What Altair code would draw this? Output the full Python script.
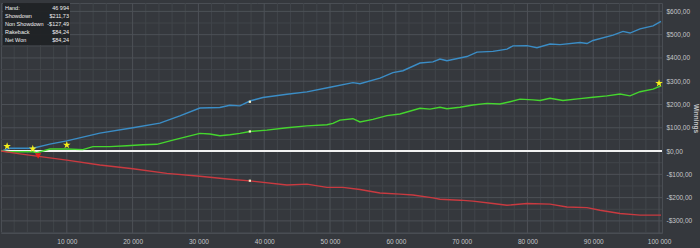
import altair as alt
import pandas as pd

# ---- data ----
blue_hands = [0, 1340, 4830, 7420, 10000, 15020, 20040, 24140, 27180, 30220, 33260, 34780, 36300, 37820,
              39800, 43450, 46490, 50000, 53480, 54550, 57590, 59560, 61080, 63670, 65640, 66710, 67770,
              70810, 72330, 74760, 76890, 77800, 79930, 81450, 83430, 84950, 88000, 89050, 89960, 93010,
              94530, 95590, 97110, 99090, 100300]
blue_vals = [0, 12, 12, 30, 44, 77, 100, 120, 151, 185, 187, 197, 194, 215,
             230, 244, 254, 274, 294, 289, 313, 337, 345, 378, 383, 395, 388,
             406, 425, 428, 438, 452, 453, 444, 460, 457, 466, 462, 475, 498,
             514, 507, 525, 538, 557]

green_hands = [0, 1340, 4830, 5440, 7420, 10000, 12440, 13960, 16540, 19130, 21560, 23690, 26120, 28250,
               30220, 31740, 33260, 34780, 36300, 37820, 40410, 43450, 46490, 49530, 50440, 51500, 53480,
               54550, 56520, 58650, 60630, 63670, 65190, 66710, 67770, 69750, 71720, 73850, 75830, 77350,
               78870, 80850, 81910, 83430, 85400, 88000, 89960, 92090, 94070, 95590, 97110, 99090, 100300]
green_vals = [0, -3, -3, -7, 9, 9, 6, 19, 19, 23, 27, 29, 47, 62,
              76, 73, 66, 70, 76, 84, 90, 100, 108, 113, 119, 133, 139,
              125, 136, 152, 159, 184, 180, 188, 182, 188, 198, 205, 202, 212,
              223, 220, 217, 227, 217, 225, 231, 237, 245, 237, 255, 266, 280]

red_hands = [0, 2860, 5440, 10000, 15020, 20040, 25200, 30220, 34780, 37820, 43450, 46490, 49530, 51960,
             54550, 57590, 60630, 62600, 65640, 66710, 69750, 71720, 74760, 76890, 79930, 83430, 86000,
             89050, 91030, 94070, 97110, 100300]
red_vals = [0, -12, -22, -39, -60, -76, -96, -108, -121, -128, -146, -142, -156, -156,
            -165, -180, -185, -189, -201, -207, -211, -215, -225, -233, -225, -228, -240,
            -243, -254, -268, -275, -275]

series_names = ["Showdown", "Net Won", "Non Showdown"]
series_colors = ["#3b8dc6", "#45d62e", "#c93a40"]

star_hands = [930, 4830, 10000, 100000]
star_vals = [21, 10, 26, 291]
tri_hands = [5640]
tri_vals = [-21]
hover_hand = 37820
hover_vals = [211.73, 84.24, -127.49]

info_labels = ["Hand:", "Showdown", "Non Showdown", "Rakeback", "Net Won"]
info_values = ["46 994", "$211,73", "-$127,49", "$84,24", "$84,24"]

x_minor = [v for v in range(2000, 100001, 2000) if v % 10000 != 0]
x_major = list(range(10000, 100001, 10000))
y_minor = [v for v in range(-350, 601, 50) if v % 100 != 0]
y_major = list(range(-300, 601, 100))

STAR = ("M0,-1L0.225,-0.309L0.951,-0.309L0.363,0.118L0.588,0.809L0,0.382"
        "L-0.588,0.809L-0.363,0.118L-0.951,-0.309L-0.225,-0.309Z")

# ---- build tables ----
rows = []
for name, hs, vs in [("Showdown", blue_hands, blue_vals), ("Net Won", green_hands, green_vals),
                     ("Non Showdown", red_hands, red_vals)]:
    for h, v in zip(hs, vs):
        rows.append({"hand": h, "won": v, "series": name})
lines_df = pd.DataFrame(rows)

FONT = "Liberation Sans"
TXT = "#c4c6c8"
GRID_MINOR = "#41454a"
GRID_MAJOR = "#4d5157"

x_scale = alt.Scale(domain=[0, 100450], nice=False, zero=False)
y_scale = alt.Scale(domain=[-352, 636], nice=False, zero=False)

x_axis = alt.Axis(
    values=x_major, title=None, tickSize=0, domain=False, grid=False,
    labelExpr="replace(format(datum.value, ','), ',', ' ')",
    labelFont=FONT, labelFontSize=6.5, labelColor=TXT, labelPadding=5,
    labelOverlap=False, labelFlush=False)

y_axis = alt.Axis(
    orient="right", values=y_major, tickSize=0, domain=False, grid=False,
    labelExpr="(datum.value < 0 ? '-$' : '$') + abs(datum.value) + ',00'",
    labelFont=FONT, labelFontSize=6.5, labelColor=TXT, labelPadding=4, labelAlign="left",
    labelBaseline="middle", labelOverlap=False, labelFlush=False,
    title="Winnings", titleAngle=90, titleFont=FONT, titleFontSize=6.5, titleColor=TXT,
    titleFontWeight="bold", titleX=33, titleY=115, titleAlign="center", titleBaseline="middle")

X = alt.X("hand:Q", scale=x_scale, axis=x_axis)
Y = alt.Y("won:Q", scale=y_scale, axis=y_axis)

lines = alt.Chart(lines_df).mark_line(strokeWidth=1.4).encode(
    x=X, y=Y,
    color=alt.Color("series:N", scale=alt.Scale(domain=series_names, range=series_colors), legend=None),
)

def vgrid(vals, color):
    return alt.Chart(pd.DataFrame({"hand": vals})).mark_rule(color=color, strokeWidth=1).encode(x=X)

def hgrid(vals, color):
    return alt.Chart(pd.DataFrame({"won": vals})).mark_rule(color=color, strokeWidth=1).encode(y=Y)

grids = [vgrid(x_minor, GRID_MINOR), hgrid(y_minor, GRID_MINOR),
         vgrid(x_major, GRID_MAJOR), hgrid(y_major, GRID_MAJOR)]

zero = alt.Chart(pd.DataFrame({"won": [0]})).mark_rule(color="#f2f2f2", strokeWidth=2).encode(y=Y)

hover = alt.Chart(pd.DataFrame({"hand": [hover_hand] * 3, "won": hover_vals})).mark_square(
    size=5, color="#f5f0c8", opacity=1).encode(x=X, y=Y)

stars = alt.Chart(pd.DataFrame({"hand": star_hands, "won": star_vals})).mark_point(
    shape=STAR, filled=True, size=64, color="#f7f01a", opacity=1).encode(x=X, y=Y)

tris = alt.Chart(pd.DataFrame({"hand": tri_hands, "won": tri_vals})).mark_point(
    shape="triangle-down", filled=True, size=40, color="#e8211d", opacity=1).encode(x=X, y=Y)

box = alt.Chart(pd.DataFrame({"a": [0]})).mark_rect(color="#202225", opacity=0.95).encode(
    x=alt.value(2), x2=alt.value(69), y=alt.value(0), y2=alt.value(42))

info_df = pd.DataFrame({"lab": info_labels, "val": info_values, "row": list(range(len(info_labels)))})
row_scale = alt.Scale(domain=[0, 4], range=[5.3, 37.3])
info_lab = alt.Chart(info_df).mark_text(align="left", baseline="middle", font=FONT, fontSize=5.5,
                                        color="#f0f0f0").encode(
    text="lab:N", x=alt.value(4), y=alt.Y("row:Q", scale=row_scale, axis=None))
info_val = alt.Chart(info_df).mark_text(align="right", baseline="middle", font=FONT, fontSize=5.5,
                                        color="#f0f0f0").encode(
    text="val:N", x=alt.value(68), y=alt.Y("row:Q", scale=row_scale, axis=None))
info = alt.layer(box, info_lab, info_val)

main = alt.layer(*grids, zero, lines, hover, stars, tris)

chart = alt.layer(main, info).resolve_scale(y="independent").properties(
    width=661, height=230,
    autosize=alt.AutoSizeParams(type="none"),
    padding={"left": 1, "top": 3, "right": 38, "bottom": 15},
    background="#35383d",
).configure_view(stroke="#4a4e54", fill="#35383d")

chart.save("out.html", embed_options={"renderer": "svg", "actions": False})
